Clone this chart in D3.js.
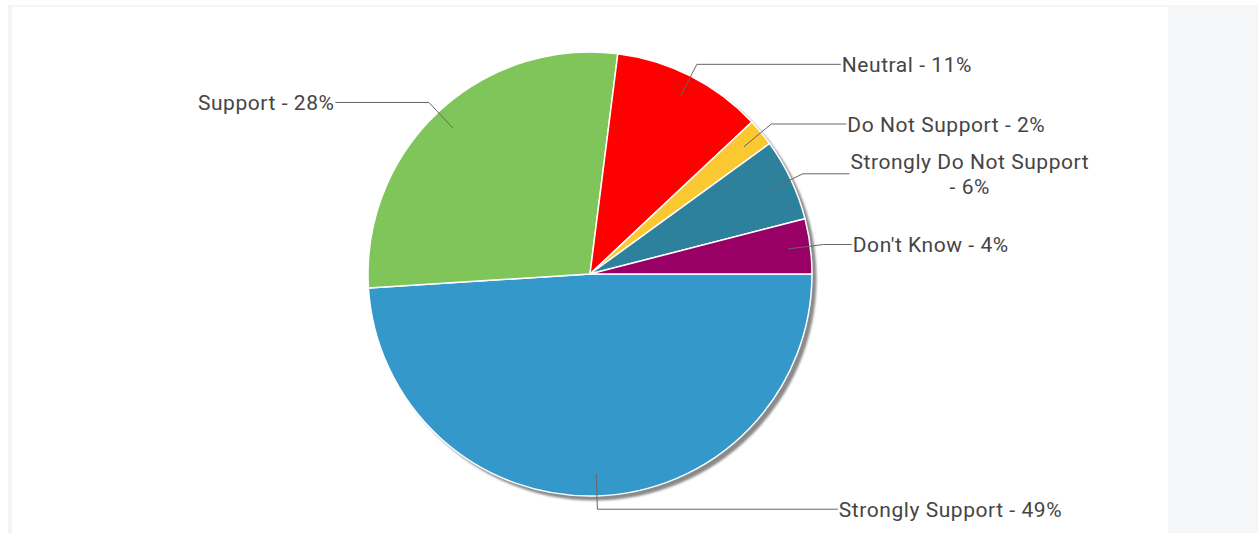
<!DOCTYPE html>
<html>
<head>
<meta charset="utf-8">
<script src="https://cdn.jsdelivr.net/npm/d3@7"></script>
<style>
  html, body { margin: 0; padding: 0; background: #ffffff; }
  svg { display: block; }
</style>
</head>
<body>
<svg id="chart" width="1258" height="533"></svg>
<script>
const categories = ["Strongly Support", "Support", "Neutral", "Do Not Support", "Strongly Do Not Support", "Don't Know"];
const values = [49, 28, 11, 2, 6, 4];
const colors = ["#3498cb", "#80c55a", "#ff0000", "#fcc832", "#2e819d", "#990066"];

const W = 1258, H = 533;
const cx = 590, cy = 274, R = 222;
const FONT = "Roboto, 'Liberation Sans', Arial, sans-serif";
const FS = 21;
const LS = 0.55;
const maxLabelW = 260;

const svg = d3.select("#chart");

// page background panels
svg.append("rect").attr("x", 0).attr("y", 0).attr("width", W).attr("height", H).attr("fill", "#ffffff");
svg.append("rect").attr("x", 8).attr("y", 5).attr("width", 1160).attr("height", 2).attr("fill", "#f4f5f6");
svg.append("rect").attr("x", 8).attr("y", 5).attr("width", 4).attr("height", H).attr("fill", "#f4f4f5");
svg.append("rect").attr("x", 1168).attr("y", 5).attr("width", W - 1168).attr("height", H).attr("fill", "#f5f6f8");

const pie = d3.pie().sort(null).value(d => d.v)
  .startAngle(Math.PI / 2).endAngle(Math.PI / 2 + 2 * Math.PI);
const data = categories.map((c, i) => ({ c, v: values[i], col: colors[i] }));
const arcs = pie(data);
const arc = d3.arc().innerRadius(0).outerRadius(R);

// shadow
const defs = svg.append("defs");
const f = defs.append("filter").attr("id", "blur").attr("x", "-10%").attr("y", "-10%").attr("width", "120%").attr("height", "120%");
f.append("feGaussianBlur").attr("stdDeviation", 0.8);
svg.append("circle").attr("cx", cx + 4).attr("cy", cy + 4).attr("r", R + 0.5)
  .attr("fill", "#8a8a8a").attr("filter", "url(#blur)");

const g = svg.append("g").attr("transform", `translate(${cx},${cy})`);
g.selectAll("path.slice").data(arcs).enter().append("path")
  .attr("class", "slice")
  .attr("d", arc)
  .attr("fill", d => d.data.col)
  .attr("stroke", "#ffffff")
  .attr("stroke-width", 1.5)
  .attr("stroke-linejoin", "round");

// labels and connectors
const pt = (a, r) => [cx + r * Math.sin(a), cy - r * Math.cos(a)];
const measure = svg.append("text").attr("font-family", FONT).attr("font-size", FS)
  .attr("letter-spacing", LS).attr("visibility", "hidden");
function textW(s) { measure.text(s); return measure.node().getComputedTextLength(); }

arcs.forEach(d => {
  const a = (d.startAngle + d.endAngle) / 2;
  const right = Math.sin(a) >= 0;
  const p1 = pt(a, R * 0.9);
  const p2 = pt(a, R * 1.06);
  const dy = p2[1] - cy;
  const lx = cx + (right ? 1 : -1) * 262 * Math.sqrt(Math.max(0, 1 - (dy / 725) * (dy / 725)));
  const ly = p2[1];
  svg.append("path")
    .attr("d", `M${p1[0]},${p1[1]}L${p2[0]},${p2[1]}L${lx},${ly}`)
    .attr("fill", "none").attr("stroke", "#666666").attr("stroke-width", 1);

  const label = `${d.data.c} -\u00a0${d.data.v}%`;
  // word wrap (keeps "- NN%" together)
  const words = label.split(" ");
  const lines = [];
  let cur = "";
  words.forEach(w => {
    const t = cur ? cur + " " + w : w;
    if (cur && textW(t) > maxLabelW) { lines.push(cur); cur = w; } else cur = t;
  });
  lines.push(cur);
  const widths = lines.map(textW);
  const bw = d3.max(widths);
  const lh = 25;
  const tx = right ? lx + 1 : lx - 1 - bw;
  const top = ly - (lines.length - 1) * lh / 2;
  const t = svg.append("text").attr("font-family", FONT).attr("font-size", FS).attr("fill", "#454545")
    .attr("letter-spacing", LS).attr("text-anchor", "middle");
  lines.forEach((ln, i) => {
    t.append("tspan").attr("x", tx + bw / 2).attr("y", top + i * lh).attr("dy", "0.36em").text(ln);
  });
});
measure.remove();
</script>
</body>
</html>
